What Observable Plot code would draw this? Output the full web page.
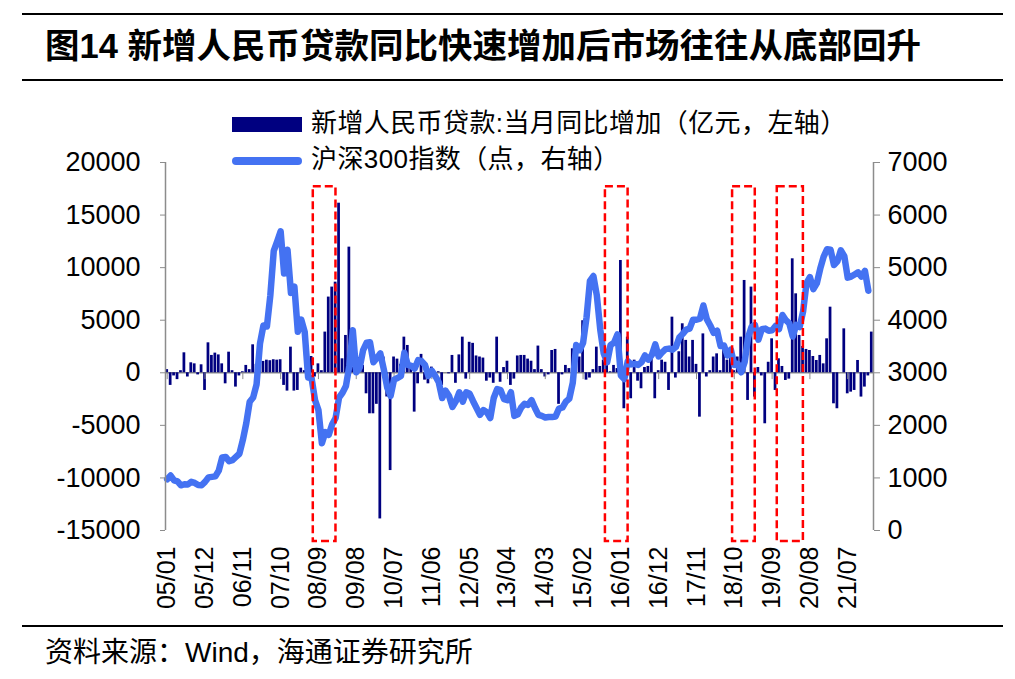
<!DOCTYPE html>
<html><head><meta charset="utf-8">
<script src="https://cdn.jsdelivr.net/npm/d3@7"></script>
<script src="https://cdn.jsdelivr.net/npm/@observablehq/plot@0.6"></script>
<style>
body{margin:0;background:#fff;}
#wrap{position:relative;width:1015px;height:679px;overflow:hidden;background:#fff;}
.rule{position:absolute;left:22px;width:981px;height:2px;background:#000;}
.t{position:absolute;white-space:nowrap;font-family:"Liberation Sans","Noto Sans CJK SC",sans-serif;color:#000;}
#chart{position:absolute;left:0;top:100px;}
.sw{position:absolute;}
</style></head><body>
<div id="wrap">
  <div class="rule" style="top:13px"></div>
  <div class="t" style="left:45px;top:29px;font-size:34.5px;line-height:35px;font-weight:bold;">图14 新增人民币贷款同比快速增加后市场往往从底部回升</div>
  <div class="rule" style="top:79px"></div>
  <div id="chart"></div>
  <div class="sw" style="left:232px;top:117px;width:70px;height:15px;background:#000080;"></div>
  <div class="t" style="left:311px;top:110px;font-size:26px;line-height:26px;letter-spacing:0.4px;">新增人民币贷款:当月同比增加（亿元，左轴）</div>
  <div class="sw" style="left:232px;top:157px;width:70px;height:8px;border-radius:4px;background:#4472F2;"></div>
  <div class="t" style="left:311px;top:146px;font-size:26px;line-height:26px;letter-spacing:0.4px;">沪深300指数（点，右轴）</div>
  <div class="rule" style="top:625px"></div>
  <div class="t" style="left:45px;top:639px;font-size:28px;line-height:28px;">资料来源：Wind，海通证券研究所</div>
</div>
<script>
// ---- data ----
const firstMonth = [2005, 1];   // 05/01, monthly series through 22/01
const tickLabels = ["05/01","05/12","06/11","07/10","08/09","09/08","10/07","11/06","12/05","13/04","14/03","15/02","16/01","16/12","17/11","18/10","19/09","20/08","21/07"];
const leftTicks = [-15000,-10000,-5000,0,5000,10000,15000,20000];
const rightTicks = [0,1000,2000,3000,4000,5000,6000,7000];
// 新增人民币贷款:当月同比增加（亿元）
const loansYoY = [
  300,-1200,-300,-650,200,1900,-400,950,850,-200,760,-1680,
  2850,1650,1870,1700,850,-1050,1960,200,-1360,-300,100,700,
  300,2660,800,300,1080,1200,1150,1240,1200,1240,-1200,-1740,
  2440,-1740,-1680,440,200,300,1550,-400,850,200,3870,7200,
  8150,8620,16130,1330,3550,11950,500,1300,1450,700,-2000,-3900,
  -3900,-3000,-13900,1500,-2300,-9300,1500,1300,800,3390,2600,540,
  -3740,-1050,1750,-700,-1050,540,-400,100,-1200,0,-100,1650,
  -1000,1700,3390,-600,2900,2800,1600,1500,1400,-800,-500,-1000,
  3390,-900,500,1100,-1200,-600,1600,1650,1650,1300,1100,300,
  2540,300,-400,-200,2120,2220,-3000,-200,700,400,2280,2100,
  1500,4950,-700,-500,300,2440,600,1200,1500,100,700,400,
  10680,-3420,3390,-2470,1200,-800,-1520,500,600,1490,-2470,200,
  1200,1000,-1680,5290,-500,2000,4660,3080,1500,3080,800,-4220,
  3700,-400,200,1500,1800,200,2760,1200,1800,200,1500,3390,
  8780,-2630,8150,-2310,500,-300,-4850,1000,3230,-1680,1330,600,
  -730,-600,10840,7510,3550,2500,2220,2120,1550,1170,1650,850,
  3230,6240,-2950,-3420,0,4180,-2000,-1840,-1680,1170,-2310,-1360,
  -300,3870
];
// 沪深300指数（点）
const csi300 = [
  975,1045,955,935,860,880,875,925,905,865,860,925,
  1010,1020,1030,1140,1390,1400,1320,1340,1400,1460,1720,2040,
  2450,2530,2780,3560,3900,3880,4470,5320,5500,5690,4890,5340,
  4520,4640,3780,4010,3780,2910,2900,2480,2290,1660,1870,1820,
  2020,2140,2530,2620,2750,3140,3810,3010,3100,3430,3570,3580,
  3200,3280,3370,3070,2720,2560,2870,2900,2940,3380,3150,3130,
  3080,3240,3220,3150,2940,3040,2940,2820,2520,2660,2560,2350,
  2460,2630,2450,2630,2600,2460,2330,2200,2290,2250,2140,2520,
  2690,2670,2500,2480,2630,2180,2210,2340,2410,2390,2480,2330,
  2200,2180,2150,2160,2160,2170,2320,2340,2450,2510,2810,3530,
  3430,3570,4050,4750,4840,4470,3820,3370,3200,3530,3570,3730,
  2950,2880,3220,3160,3170,3150,3200,3330,3250,3340,3540,3310,
  3390,3450,3460,3440,3490,3670,3740,3820,3840,4010,4010,4030,
  4280,4020,3900,3760,3800,3510,3520,3330,3440,3150,3170,3010,
  3200,3670,3870,3910,3630,3830,3840,3800,3810,3890,3830,4100,
  4000,3940,3690,3910,3870,4160,4700,4820,4590,4700,4980,5210,
  5350,5340,5050,5120,5330,5220,4810,4830,4870,4910,4830,4940,
  4560
];
// 红框：起止月份
const highlights = [["08/08","09/02"],["15/09","16/03"],["18/10","19/04"],["19/11","20/06"]];

// ---- build ----
const n = loansYoY.length;
const months = d3.range(n).map(i => {
  const t = firstMonth[1] - 1 + i;
  const y = firstMonth[0] + Math.floor(t / 12), m = t % 12 + 1;
  return String(y % 100).padStart(2, "0") + "/" + String(m).padStart(2, "0");
});
const idx = new Map(months.map((m, i) => [m, i]));
const rows = months.map((m, i) => ({i, m, loan: loansYoY[i], idxv: csi300[i]}));
// right axis (0..7000) mapped onto left axis (-15000..20000)
const [L0, L1] = [leftTicks[0], leftTicks[leftTicks.length - 1]];
const [R0, R1] = [rightTicks[0], rightTicks[rightTicks.length - 1]];
const toLeft = v => L0 + (v - R0) * (L1 - L0) / (R1 - R0);
const toRight = v => R0 + (v - L0) * (R1 - R0) / (L1 - L0);
const gray = "#8c8c8c";

const chart = Plot.plot({
  width: 1015, height: 520,
  marginLeft: 165, marginRight: 142, marginTop: 62, marginBottom: 90,
  x: {domain: [0, n], axis: null},
  y: {domain: [L0, L1], axis: null},
  style: {fontFamily: "'Liberation Sans', Arial, sans-serif", fontSize: "27px", color: "#000", background: "transparent"},
  marks: [
    Plot.ruleY([0], {stroke: gray, strokeWidth: 1.5}),
    Plot.rect(rows, {x1: d => d.i, x2: d => d.i + 1, y1: 0, y2: "loan", fill: "#000080", insetLeft: 0.35, insetRight: 0.35}),
    Plot.ruleX(tickLabels, {x: d => idx.get(d) + 0.5, y1: 0, y2: -650, stroke: gray, strokeWidth: 1}),
    Plot.line(rows, {x: d => d.i + 0.5, y: d => toLeft(d.idxv), stroke: "#4472F2", strokeWidth: 6.5, strokeLinejoin: "round", strokeLinecap: "round"}),
    Plot.ruleX([0, n], {y1: L0, y2: L1, stroke: gray, strokeWidth: 1.5}),
    Plot.axisY(leftTicks, {anchor: "left", label: null, tickSize: 5, tickPadding: 20, stroke: gray, fill: "#000", tickFormat: d => String(d)}),
    Plot.axisY(rightTicks.map(toLeft), {anchor: "right", label: null, tickSize: 6, tickPadding: 8, stroke: gray, fill: "#000", tickFormat: d => String(Math.round(toRight(d)))}),
    Plot.axisX(tickLabels.map(d => idx.get(d) + 0.5), {anchor: "bottom", label: null, tickRotate: -90, tickSize: 0, tickPadding: 16, fill: "#000", fontSize: 25, tickFormat: d => months[Math.round(d - 0.5)]}),
    Plot.rect(highlights, {x1: d => idx.get(d[0]), x2: d => idx.get(d[1]) + 0.6, y1: -16050, y2: 17700, fill: "none", stroke: "#FF0000", strokeWidth: 2.5, strokeDasharray: "8,4"})
  ]
});
document.getElementById("chart").appendChild(chart);
</script>
</body></html>
